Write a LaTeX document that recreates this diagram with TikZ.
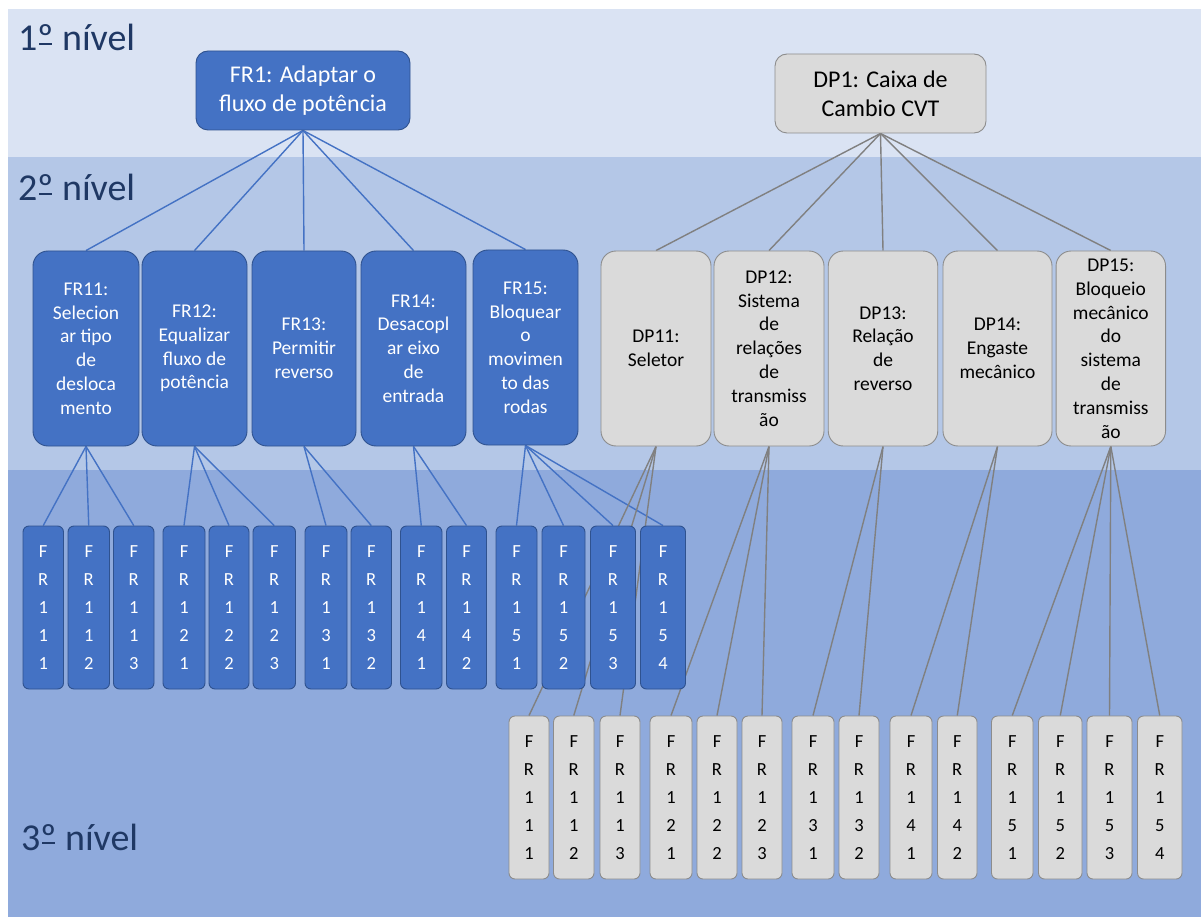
\documentclass[tikz,border=0pt]{standalone}
\usepackage{fontspec}
\setmainfont{Carlito}
\usetikzlibrary{backgrounds}
\definecolor{bandA}{HTML}{DAE3F3}
\definecolor{bandB}{HTML}{B4C7E7}
\definecolor{bandC}{HTML}{8FAADC}
\definecolor{navy}{HTML}{1F3864}
\definecolor{frblue}{HTML}{4472C4}
\definecolor{frborder}{HTML}{2F528F}
\definecolor{dpgrey}{HTML}{DADADA}
\definecolor{dpborder}{HTML}{8C8C8C}
\definecolor{linkgrey}{HTML}{808080}
% ordinal indicator with the bar underneath
\newcommand\ordbar{\leavevmode\setbox0\hbox{º}\rlap{\hbox to\wd0{\hss\rule[0.17em]{0.75\wd0}{0.045em}\hss}}\box0}
\pgfdeclarelayer{bands}
\pgfdeclarelayer{links}
\pgfsetlayers{bands,links,main}
\tikzset{
  levellabel/.style={font=\fontsize{38}{44}\selectfont, text=navy, anchor=base west, inner sep=0pt},
  frbox/.style={draw=frborder, fill=frblue, text=white, line width=0.9pt, inner sep=0pt, align=center},
  dpbox/.style={draw=dpborder, fill=dpgrey, text=black, line width=0.9pt, inner sep=0pt, align=center},
  topbox/.style={minimum height=79pt, rounded corners=12pt, font=\fontsize{24}{29}\selectfont},
  midbox/.style={minimum height=195pt, rounded corners=15pt, font=\fontsize{19.5}{23.8}\selectfont},
  leafbox/.style={minimum height=163pt, rounded corners=6pt, font=\fontsize{18.5}{28}\selectfont},
  frlink/.style={draw=frblue, line width=1.4pt},
  dplink/.style={draw=linkgrey, line width=1.4pt},
}
\begin{document}
\begin{tikzpicture}[x=1pt, y=-1pt]
\useasboundingbox (0,0) rectangle (1201,917);

% level bands
\begin{pgfonlayer}{bands}
  \fill[white] (0,0) rectangle (1201,917);
  \fill[bandA] (8,9) rectangle (1201,157);
  \fill[bandB] (8,157) rectangle (1201,470);
  \fill[bandC] (8,470) rectangle (1201,917);
\end{pgfonlayer}

\node[levellabel] (lv1) at (18,51) {1\ordbar{} nível};
\node[levellabel] (lv2) at (18,201) {2\ordbar{} nível};
\node[levellabel] (lv3) at (21,850) {3\ordbar{} nível};

% first level
\node[frbox, topbox, minimum width=214pt] (fr1) at (303,90.5) {FR1: Adaptar o\\fluxo de potência};
\node[dpbox, topbox, minimum width=211pt] (dp1) at (880.5,93.5) {DP1: Caixa de\\Cambio CVT};

% second level: functional requirements
\node[frbox, midbox, minimum width=106pt] (fr11) at (86,348.5) {FR11:\\Selecion\\ar tipo\\de\\desloca\\mento};
\node[frbox, midbox, minimum width=105pt] (fr12) at (194.5,348.5) {FR12:\\Equalizar\\fluxo de\\potência};
\node[frbox, midbox, minimum width=104pt] (fr13) at (304,348.5) {FR13:\\Permitir\\reverso};
\node[frbox, midbox, minimum width=105pt] (fr14) at (413.5,348.5) {FR14:\\Desacopl\\ar eixo\\de\\entrada};
\node[frbox, midbox, minimum width=105pt] (fr15) at (525.5,347.5) {FR15:\\Bloquear\\o\\movimen\\to das\\rodas};

% second level: design parameters
\node[dpbox, midbox, minimum width=110pt] (dp11) at (656,348.5) {DP11:\\Seletor};
\node[dpbox, midbox, minimum width=110pt] (dp12) at (769,348.5) {DP12:\\Sistema\\de\\relações\\de\\transmiss\\ão};
\node[dpbox, midbox, minimum width=109.5pt] (dp13) at (883,348.5) {DP13:\\Relação\\de\\reverso};
\node[dpbox, midbox, minimum width=109pt] (dp14) at (997.5,348.5) {DP14:\\Engaste\\mecânico};
\node[dpbox, midbox, minimum width=109.5pt] (dp15) at (1110.8,348.5) {DP15:\\Bloqueio\\mecânico\\do\\sistema\\de\\transmiss\\ão};

% third level: functional requirements
\foreach \j/\k/\a/\b in {1/1/23/63.5, 1/2/68/109.5, 1/3/113.5/154, 2/1/163/205, 2/2/209/249, 2/3/253/295.5,
    3/1/305/347, 3/2/351/391.5, 4/1/400.5/442, 4/2/446.5/486.5, 5/1/496/537, 5/2/542/585, 5/3/590.5/635.5, 5/4/640.5/685.5}
  \node[frbox, leafbox, minimum width={(\b-\a)*1pt}] (b1\j\k) at ({(\a+\b)/2},607.5) {F\\R\\1\\\j\\\k};

% third level: design parameters
\foreach \j/\k/\a/\b in {1/1/509/549, 1/2/553.5/594, 1/3/600/640, 2/1/650/692, 2/2/697/737, 2/3/742/782,
    3/1/792/834, 3/2/839/879, 4/1/890/932, 4/2/937.5/977, 5/1/991.5/1033, 5/2/1038.5/1082, 5/3/1087/1132, 5/4/1137.5/1182}
  \node[dpbox, leafbox, minimum width={(\b-\a)*1pt}] (g1\j\k) at ({(\a+\b)/2},797.5) {F\\R\\1\\\j\\\k};

% connectors
\begin{pgfonlayer}{links}
  \foreach \c in {fr11,fr12,fr13,fr14,fr15}
    \draw[frlink] (fr1.south) -- (\c.north);
  \foreach \c in {dp11,dp12,dp13,dp14,dp15}
    \draw[dplink] (dp1.south) -- (\c.north);
  \foreach \p/\c in {fr11/b111, fr11/b112, fr11/b113, fr12/b121, fr12/b122, fr12/b123,
      fr13/b131, fr13/b132, fr14/b141, fr14/b142, fr15/b151, fr15/b152, fr15/b153, fr15/b154}
    \draw[frlink] (\p.south) -- (\c.north);
  \foreach \p/\c in {dp11/g111, dp11/g112, dp11/g113, dp12/g121, dp12/g122, dp12/g123,
      dp13/g131, dp13/g132, dp14/g141, dp14/g142, dp15/g151, dp15/g152, dp15/g153, dp15/g154}
    \draw[dplink] (\p.south) -- (\c.north);
\end{pgfonlayer}
\end{tikzpicture}
\end{document}
